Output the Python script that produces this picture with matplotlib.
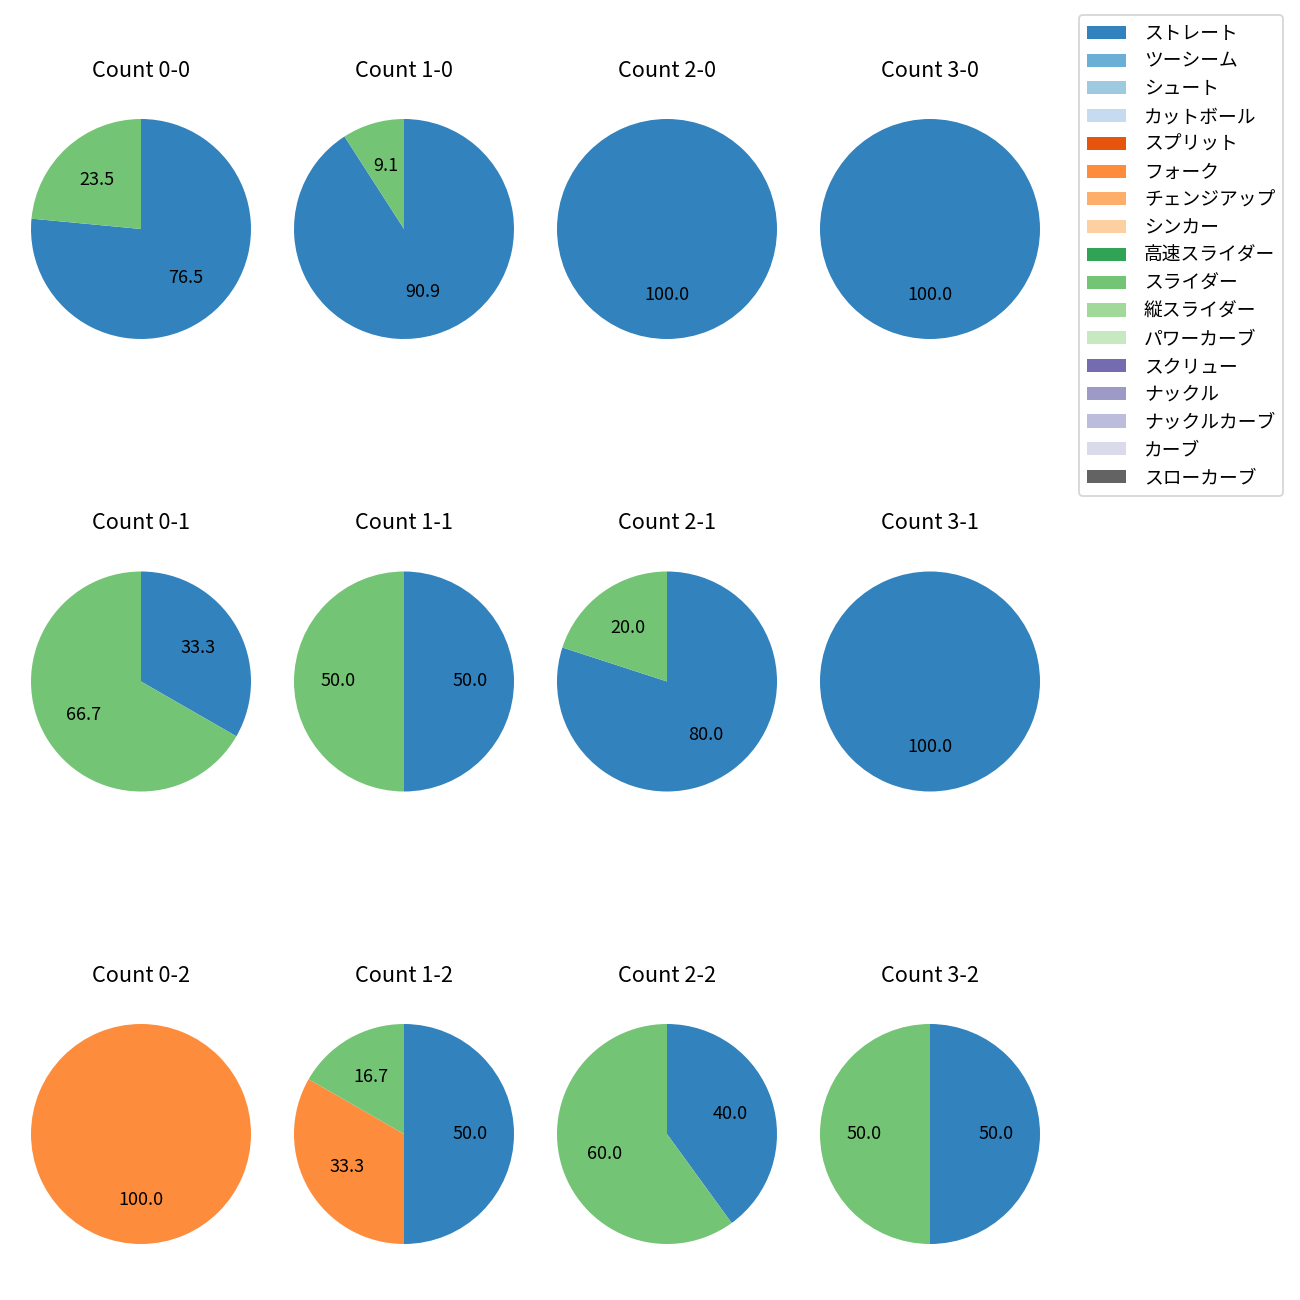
import matplotlib
matplotlib.use("Agg")
import matplotlib.pyplot as plt
from matplotlib.patches import Patch

plt.rcParams["font.family"] = ["Noto Sans CJK JP", "DejaVu Sans"]

# -------------------------------
# Data
# -------------------------------
PITCH_TYPES = [
    "ストレート", "ツーシーム", "シュート", "カットボール", "スプリット",
    "フォーク", "チェンジアップ", "シンカー", "高速スライダー", "スライダー",
    "縦スライダー", "パワーカーブ", "スクリュー", "ナックル", "ナックルカーブ",
    "カーブ", "スローカーブ",
]

COUNT_LABELS = [
    "Count 0-0", "Count 1-0", "Count 2-0", "Count 3-0",
    "Count 0-1", "Count 1-1", "Count 2-1", "Count 3-1",
    "Count 0-2", "Count 1-2", "Count 2-2", "Count 3-2",
]

# share (%) per count: ストレート, フォーク, スライダー
STRAIGHT = [76.5, 90.9, 100.0, 100.0, 33.3, 50.0, 80.0, 100.0, 0.0, 50.0, 40.0, 50.0]
FORK = [0.0, 0.0, 0.0, 0.0, 0.0, 0.0, 0.0, 0.0, 100.0, 33.3, 0.0, 0.0]
SLIDER = [23.5, 9.1, 0.0, 0.0, 66.7, 50.0, 20.0, 0.0, 0.0, 16.7, 60.0, 50.0]


def main():

    cmap = plt.get_cmap("tab20c")
    colors = {name: cmap(i) for i, name in enumerate(PITCH_TYPES)}

    fig, axes = plt.subplots(3, 4, figsize=(10, 10), dpi=130)

    fig.subplots_adjust(
        left=3.5 / 1300,
        right=1067.5 / 1300,
        top=1 - 79 / 1300,
        bottom=16 / 1300,
        wspace=-12 / 275,
        hspace=152.5 / 300
    )

    series = {
        "ストレート": STRAIGHT,
        "フォーク": FORK,
        "スライダー": SLIDER,
    }

    for i, ax in enumerate(axes.flat):

        values = []
        wedge_colors = []

        for name in PITCH_TYPES:
            if name in series and series[name][i] > 0:
                values.append(series[name][i])
                wedge_colors.append(colors[name])

        ax.pie(
            values,
            colors=wedge_colors,
            startangle=90,
            counterclock=False,
            autopct="%.1f"
        )

        ax.set_title(COUNT_LABELS[i], pad=8.2)

    handles = [Patch(facecolor=colors[name], label=name) for name in PITCH_TYPES]

    fig.legend(
        handles=handles,
        loc="upper right",
        fontsize=10.4,
        labelspacing=0.36,
        handlelength=2.1,
        handletextpad=0.95,
        bbox_to_anchor=(1292 / 1300, 1 - 6 / 1300)
    )

    fig.savefig("out.png", dpi=130, facecolor="white")
    plt.close(fig)


if __name__ == "__main__":
    main()
